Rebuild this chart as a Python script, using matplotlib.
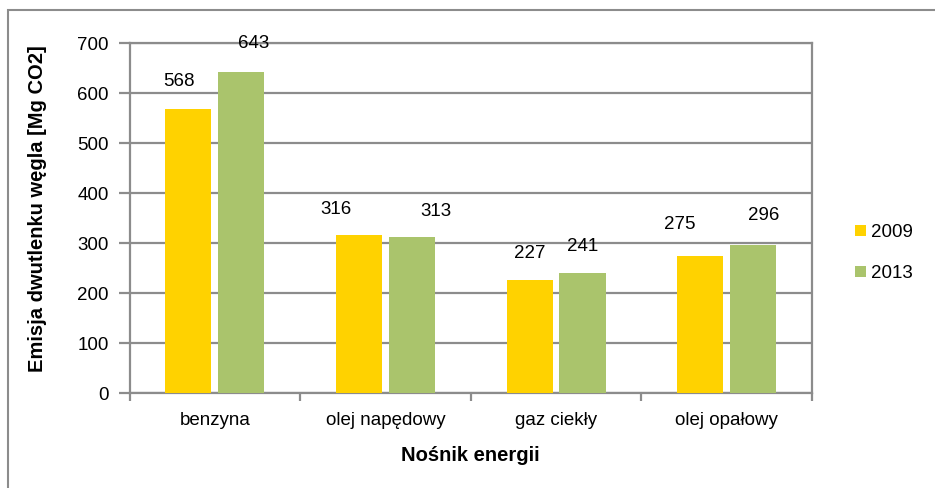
import matplotlib
matplotlib.use("Agg")
import matplotlib.pyplot as plt
import numpy as np
from matplotlib.patches import Rectangle

categories = ["benzyna", "olej napędowy", "gaz ciekły", "olej opałowy"]
series_names = ["2009", "2013"]
values_2009 = [568, 316, 227, 275]
values_2013 = [643, 313, 241, 296]
y_ticks = [0, 100, 200, 300, 400, 500, 600, 700]

# label offsets in pixels (style)
label_dx_2009 = [-9, -23, 0, -20]
label_dx_2013 = [12, 24, 0, 11]
label_dy_2009 = [28, 26, 26, 31]
label_dy_2013 = [28, 25, 26, 29]

plt.rcParams['font.family'] = ['Liberation Sans', 'DejaVu Sans']

W, H = 935, 488
fig = plt.figure(figsize=(W / 100, H / 100), dpi=100)
fig.patch.set_facecolor("white")

# outer chart frame
fig.patches.append(Rectangle((8 / W, -0.1), 1.2, 1 - 10 / H + 0.1,
                             transform=fig.transFigure, fill=False,
                             edgecolor="#8c8c8c", linewidth=1.5))

ax = fig.add_axes([129.5 / W, 1 - 393 / H, (812 - 129.5) / W, (393 - 43) / H])

x = np.arange(len(categories))
width = 0.27
off = 0.155
c2009 = "#FFD200"
c2013 = "#AAC46C"
ax.bar(x - off, values_2009, width, color=c2009, label=series_names[0], zorder=3)
ax.bar(x + off, values_2013, width, color=c2013, label=series_names[1], zorder=3)

for i in range(len(categories)):
    ax.annotate(str(values_2009[i]), (x[i] - off, values_2009[i]),
                xytext=(label_dx_2009[i], label_dy_2009[i]), textcoords="offset pixels",
                ha="center", va="center", fontsize=13.5, color="black")
    ax.annotate(str(values_2013[i]), (x[i] + off, values_2013[i]),
                xytext=(label_dx_2013[i], label_dy_2013[i]), textcoords="offset pixels",
                ha="center", va="center", fontsize=13.5, color="black")

ax.set_xlim(-0.5, len(categories) - 0.5)
ax.set_ylim(0, 700)
ax.set_yticks(y_ticks)
ax.set_xticks(x)
ax.set_xticklabels(categories, fontsize=13.5)
ax.set_xticks(np.arange(len(categories) + 1) - 0.5, minor=True)
ax.tick_params(axis="x", which="major", length=0, pad=14)
ax.tick_params(axis="x", which="minor", length=6, width=1.6, color="#8c8c8c")
ax.tick_params(axis="y", length=8, width=1.6, color="#8c8c8c", labelsize=13.5, pad=7)

ax.grid(axis="y", color="#8c8c8c", linewidth=1.6, zorder=0)
ax.set_axisbelow(True)
for s in ax.spines.values():
    s.set_color("#8c8c8c")
    s.set_linewidth(1.6)

ax.set_xlabel("Nośnik energii", fontsize=14.5, fontweight="bold", labelpad=12)
ax.set_ylabel("Emisja dwutlenku węgla [Mg CO2]", fontsize=14.5, fontweight="bold")
ax.yaxis.set_label_coords((47 - 129.5) / (812 - 129.5), (393 - 209) / 350)

ax.legend(loc="center left", bbox_to_anchor=(846 / W, 1 - 253 / H),
          bbox_transform=fig.transFigure, frameon=False, fontsize=13.5,
          borderpad=0, handlelength=0.55, handleheight=0.55, handletextpad=0.3,
          labelspacing=1.3)

fig.savefig("out.png", dpi=100, facecolor="white")
